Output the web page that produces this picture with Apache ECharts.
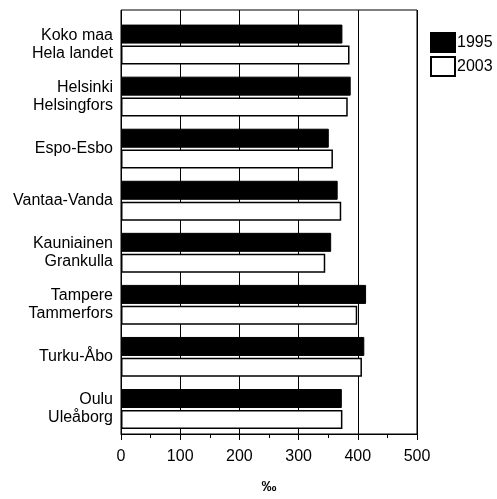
<!DOCTYPE html>
<html>
<head>
<meta charset="utf-8">
<script src="https://cdn.jsdelivr.net/npm/echarts@6/dist/echarts.min.js"></script>
<style>
html,body{margin:0;padding:0;background:#fff;}
#chart{width:497px;height:499px;}
</style>
</head>
<body>
<div id="chart"></div>
<script>
const categories = [
  'Koko maa\nHela landet',
  'Helsinki\nHelsingfors',
  'Espo-Esbo',
  'Vantaa-Vanda',
  'Kauniainen\nGrankulla',
  'Tampere\nTammerfors',
  'Turku-Åbo',
  'Oulu\nUleåborg'
];
const values1995 = [374, 388, 351, 366, 355, 414, 411, 373];
const values2003 = [386, 383, 358, 372, 345, 399, 407, 374];
const xTicks = [0, 100, 200, 300, 400, 500];

const font = '"Liberation Sans", Arial, sans-serif';
const chart = echarts.init(document.getElementById('chart'), null, {renderer: 'canvas'});
chart.setOption({
  animation: false,
  backgroundColor: '#fff',
  textStyle: {fontFamily: font, color: '#000'},
  legend: {
    orient: 'vertical',
    left: 430,
    top: 32,
    padding: 0,
    itemWidth: 24,
    itemHeight: 19,
    itemGap: 3,
    icon: 'rect',
    textStyle: {fontSize: 16, color: '#000', fontFamily: font, padding: [7, 0, 0, -3]},
    data: ['1995', '2003']
  },
  grid: [
    {left: 121, top: 10, width: 296, height: 435, show: true, borderColor: '#000', borderWidth: 1, backgroundColor: 'transparent'},
    {left: 121, top: 18.5, width: 296, height: 416.5}
  ],
  xAxis: [
    {
      type: 'value', gridIndex: 0, min: xTicks[0], max: xTicks[xTicks.length - 1], interval: 100,
      axisLine: {show: true, lineStyle: {color: '#000', width: 1}},
      axisTick: {show: true, length: 6, lineStyle: {color: '#000'}},
      minorTick: {show: true, splitNumber: 2, length: 4, lineStyle: {color: '#000'}},
      splitLine: {show: true, lineStyle: {color: '#000', width: 1}},
      axisLabel: {fontSize: 16, color: '#000', margin: 15, fontFamily: font},
      name: '‰', nameLocation: 'middle', nameGap: 45,
      nameTextStyle: {fontSize: 15, fontWeight: 'bold', color: '#000', fontFamily: font}
    },
    {
      type: 'value', gridIndex: 1, min: 0, max: 500,
      show: false
    }
  ],
  yAxis: [
    {type: 'value', gridIndex: 0, min: 0, max: 1, show: false},
    {
      type: 'category', gridIndex: 1, data: categories, inverse: true,
      axisLine: {show: false}, axisTick: {show: false}, splitLine: {show: false},
      axisLabel: {fontSize: 16, color: '#000', margin: 8, lineHeight: 18, align: 'right', fontFamily: font}
    }
  ],
  series: [
    {
      name: '1995', type: 'bar', xAxisIndex: 1, yAxisIndex: 1,
      data: values1995, barWidth: 19, barGap: '10%',
      itemStyle: {color: '#000', borderColor: '#000', borderWidth: 1}
    },
    {
      name: '2003', type: 'bar', xAxisIndex: 1, yAxisIndex: 1,
      data: values2003, barWidth: 19, barGap: '10%',
      itemStyle: {color: '#fff', borderColor: '#000', borderWidth: 1.5}
    }
  ]
});
</script>
</body>
</html>
